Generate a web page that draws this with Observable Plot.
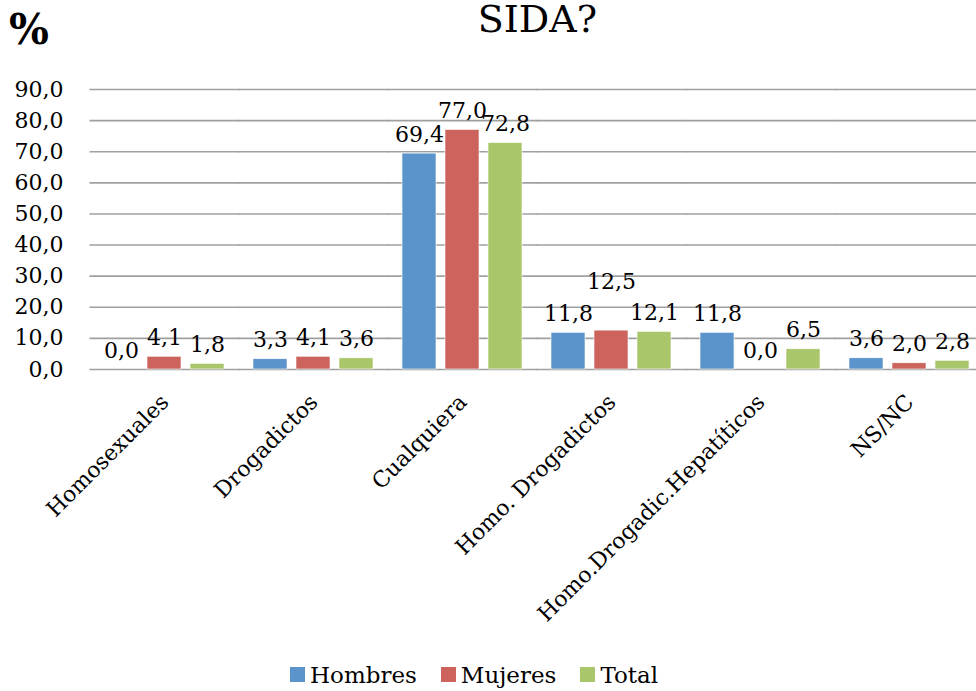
<!DOCTYPE html>
<html>
<head>
<meta charset="utf-8">
<script src="https://cdn.jsdelivr.net/npm/d3@7"></script>
<script src="https://cdn.jsdelivr.net/npm/@observablehq/plot@0.6"></script>
<style>
  html, body { margin: 0; padding: 0; background: #fff; overflow: hidden; }
  body { width: 976px; height: 691px; font-family: "DejaVu Serif", serif; }
  #wrap { position: relative; width: 986px; }
  #header { position: relative; height: 60px; }
  #pct { position: absolute; left: 9px; top: 9px; font-weight: bold; font-size: 42px; line-height: 1; }
  #title { position: absolute; left: 90px; width: 895px; top: 0px; text-align: center; font-size: 38px; line-height: 1; }
  #legend { height: 41px; display: flex; align-items: center; padding-left: 290px; padding-top: 8px; box-sizing: border-box; font-size: 23px; }
  .item { display: flex; align-items: center; margin-right: 24px; }
  .sw { width: 15px; height: 15px; margin-right: 5px; }
</style>
</head>
<body>
<div id="wrap">
  <div id="header"><div id="pct">%</div><div id="title">SIDA?</div></div>
  <div id="chart"></div>
  <div id="legend"></div>
</div>
<script>
const categories = ["Homosexuales", "Drogadictos", "Cualquiera", "Homo. Drogadictos", "Homo.Drogadic.Hepatíticos", "NS/NC"];
const seriesNames = ["Hombres", "Mujeres", "Total"];
const hombres = [0.0, 3.3, 69.4, 11.8, 11.8, 3.6];
const mujeres = [4.1, 4.1, 77.0, 12.5, 0.0, 2.0];
const total = [1.8, 3.6, 72.8, 12.1, 6.5, 2.8];
const yTicks = [0, 10, 20, 30, 40, 50, 60, 70, 80, 90];
const colors = ["#5b94cb", "#cd635d", "#aac66a"];

const seriesValues = [hombres, mujeres, total];
const wide = v => v >= 10; // two-digit labels are wider than a bar step
const rows = [];
categories.forEach((c, i) => {
  seriesNames.forEach((s, j) => {
    // a wide middle label between two wide neighbours at nearly the same height would collide: lift it
    const v = seriesValues[j][i];
    const crowded = j === 1 && wide(v) && wide(hombres[i]) && wide(total[i]) &&
      Math.abs(hombres[i] - v) < 3 && Math.abs(total[i] - v) < 3;
    rows.push({category: c, series: s, value: v, crowded});
  });
});
const fmt = v => v.toFixed(1).replace(".", ",");

const chart = Plot.plot({
  width: 986,
  height: 590,
  marginTop: 29,
  marginBottom: 281,
  marginLeft: 90,
  marginRight: 1,
  style: {fontFamily: "DejaVu Serif, serif", fontSize: "22px", color: "#000", background: "#fff"},
  fx: {domain: categories, paddingInner: 0.174, paddingOuter: 0.087, label: null, axis: null},
  x: {domain: seriesNames, paddingInner: 0.2, paddingOuter: 0, axis: null},
  y: {domain: [0, 90], label: null},
  color: {domain: seriesNames, range: colors},
  marks: [
    Plot.ruleY(yTicks, {stroke: "#a0a0a0", strokeWidth: 1.6, insetLeft: -13.5, insetRight: -13.5}),
    Plot.axisY(yTicks, {tickSize: 0, tickPadding: 40, tickFormat: fmt, fontSize: 22, label: null}),
    Plot.barY(rows, {fx: "category", x: "series", y: "value", fill: "series", stroke: "white", strokeWidth: 0.6}),
    Plot.text(rows.filter(d => !d.crowded), {fx: "category", x: "series", y: "value", text: d => fmt(d.value), lineAnchor: "bottom", dy: -12, fontSize: 22, fill: "#000"}),
    Plot.text(rows.filter(d => d.crowded), {fx: "category", x: "series", y: "value", text: d => fmt(d.value), lineAnchor: "bottom", dy: -42, fontSize: 22, fill: "#000"}),
    Plot.axisFx({anchor: "bottom", tickRotate: -45, tickSize: 0, tickPadding: 4, fontSize: 22, label: null, dx: 0, dy: 25})
  ]
});
document.getElementById("chart").appendChild(chart);

const legend = document.getElementById("legend");
seriesNames.forEach((s, i) => {
  const it = document.createElement("div");
  it.className = "item";
  const sw = document.createElement("div");
  sw.className = "sw";
  sw.style.background = colors[i];
  const t = document.createElement("span");
  t.textContent = s;
  it.appendChild(sw); it.appendChild(t);
  legend.appendChild(it);
});
</script>
</body>
</html>
